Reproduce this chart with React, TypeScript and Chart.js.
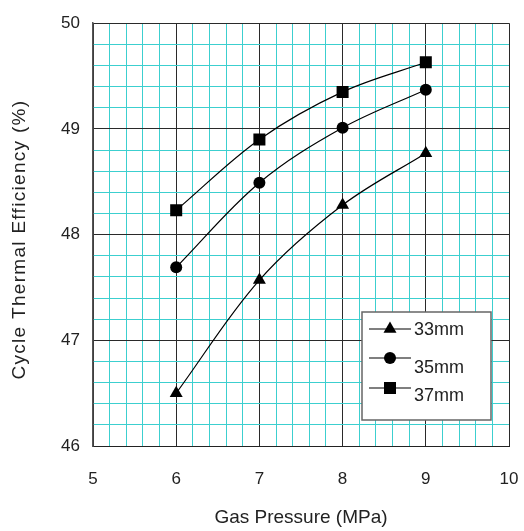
import React, { useEffect, useRef } from "react";
import { Chart, registerables } from "chart.js";

Chart.register(...registerables);

const pressures = [6, 7, 8, 9];
const eff33 = [46.5, 47.57, 48.28, 48.77];
const eff35 = [47.69, 48.49, 49.01, 49.37];
const eff37 = [48.23, 48.9, 49.35, 49.63];
const seriesLabels = ["33mm", "35mm", "37mm"];
const pointStyles = ["triangle", "circle", "rect"];
const pointRadii = [7.5, 6, 8.5];
const yTitle = "Cycle Thermal Efficiency (%)";
const xTitle = "Gas Pressure (MPa)";

const FONT = "'Liberation Sans', Arial, sans-serif";
const CYAN = "#3ccfcf";
const MAJOR = "#2a2a2a";

const isInt = (v: number) => Math.abs(v - Math.round(v)) < 1e-6;

function drawMarker(ctx: CanvasRenderingContext2D, style: string, x: number, y: number, r: number) {
  ctx.beginPath();
  if (style === "circle") {
    ctx.arc(x, y, r, 0, Math.PI * 2);
  } else if (style === "rect") {
    const s = Math.SQRT1_2 * r;
    ctx.rect(x - s, y - s, 2 * s, 2 * s);
  } else {
    let rad = 0;
    const T = (2 * Math.PI) / 3;
    ctx.moveTo(x + Math.sin(rad) * r, y - Math.cos(rad) * r);
    rad += T;
    ctx.lineTo(x + Math.sin(rad) * r, y - Math.cos(rad) * r);
    rad += T;
    ctx.lineTo(x + Math.sin(rad) * r, y - Math.cos(rad) * r);
    ctx.closePath();
  }
  ctx.fill();
}

const legendPlugin = {
  id: "boxLegend",
  afterDraw(chart: any) {
    const { ctx, chartArea } = chart;
    const x0 = chartArea.right - 147;
    const y0 = chartArea.bottom - 134;
    const w = 129;
    const h = 108;
    ctx.save();
    ctx.fillStyle = "#ffffff";
    ctx.fillRect(x0, y0, w, h);
    ctx.strokeStyle = "#666";
    ctx.lineWidth = 1.5;
    ctx.strokeRect(x0, y0, w, h);
    const rowY = [17, 46, 76];
    const textY = [18, 56, 84];
    chart.data.datasets.forEach((ds: any, i: number) => {
      const ly = y0 + rowY[i];
      ctx.strokeStyle = "#000";
      ctx.lineWidth = 1.2;
      ctx.beginPath();
      ctx.moveTo(x0 + 7, ly);
      ctx.lineTo(x0 + 49, ly);
      ctx.stroke();
      ctx.fillStyle = "#000";
      drawMarker(ctx, ds.pointStyle, x0 + 28, ly, ds.pointRadius);
      ctx.fillStyle = "#222";
      ctx.font = `18px ${FONT}`;
      ctx.textBaseline = "middle";
      ctx.textAlign = "left";
      ctx.fillText(ds.label, x0 + 52, y0 + textY[i]);
    });
    // y axis title with wider spacing
    const cy = (chartArea.top + chartArea.bottom) / 2 + 5;
    ctx.translate(20, cy);
    ctx.rotate(-Math.PI / 2);
    (ctx as any).letterSpacing = "1.3px";
    ctx.font = `19px ${FONT}`;
    ctx.textAlign = "center";
    ctx.textBaseline = "middle";
    ctx.fillStyle = "#222";
    ctx.fillText(yTitle, 0, 0);
    ctx.restore();
  },
};

export default function App() {
  const ref = useRef<HTMLCanvasElement | null>(null);
  useEffect(() => {
    document.body.style.margin = "0";
    const canvas = ref.current!;
    const values = [eff33, eff35, eff37];
    const chart = new Chart(canvas, {
      type: "line",
      data: {
        datasets: values.map((vals, i) => ({
          label: seriesLabels[i],
          data: pressures.map((p, j) => ({ x: p, y: vals[j] })),
          borderColor: "#000",
          backgroundColor: "#000",
          borderWidth: 1.2,
          pointStyle: pointStyles[i] as any,
          pointRadius: pointRadii[i],
          pointBackgroundColor: "#000",
          pointBorderWidth: 0,
          tension: 0.35,
          fill: false,
        })),
      },
      options: {
        responsive: false,
        animation: false,
        layout: { padding: { left: 0, right: 15, top: 22, bottom: 0 } },
        plugins: { legend: { display: false }, tooltip: { enabled: false } },
        scales: {
          x: {
            type: "linear",
            min: 5,
            max: 10,
            afterFit: (s: any) => {
              s.height = 85;
              s.paddingLeft = 0;
              s.paddingRight = 0;
            },
            ticks: {
              stepSize: 0.2,
              maxTicksLimit: 100,
              autoSkip: false,
              maxRotation: 0,
              padding: 23,
              color: "#222",
              font: { family: FONT, size: 17 },
              callback: (v: any) => (isInt(Number(v)) ? String(Math.round(Number(v))) : ""),
            },
            grid: {
              drawTicks: false,
              color: (c: any) => (isInt(c.tick.value) ? MAJOR : CYAN),
              lineWidth: 1,
            },
            border: { color: "#222", width: 1 },
            title: {
              display: true,
              text: xTitle,
              color: "#222",
              font: { family: FONT, size: 19 },
              padding: { top: 0, bottom: 2 },
            },
          },
          y: {
            type: "linear",
            min: 46,
            max: 50,
            afterFit: (s: any) => {
              s.width = 93;
            },
            ticks: {
              stepSize: 0.2,
              maxTicksLimit: 100,
              autoSkip: false,
              padding: 13,
              color: "#222",
              font: { family: FONT, size: 17 },
              callback: (v: any) => (isInt(Number(v)) ? String(Math.round(Number(v))) : ""),
            },
            grid: {
              drawTicks: false,
              color: (c: any) => (isInt(c.tick.value) ? MAJOR : CYAN),
              lineWidth: 1,
            },
            border: { color: "#555", width: 1.5 },
          },
        },
      },
      plugins: [legendPlugin],
    });
    return () => chart.destroy();
  }, []);
  return <canvas ref={ref} width={524} height={531} style={{ display: "block" }} />;
}
